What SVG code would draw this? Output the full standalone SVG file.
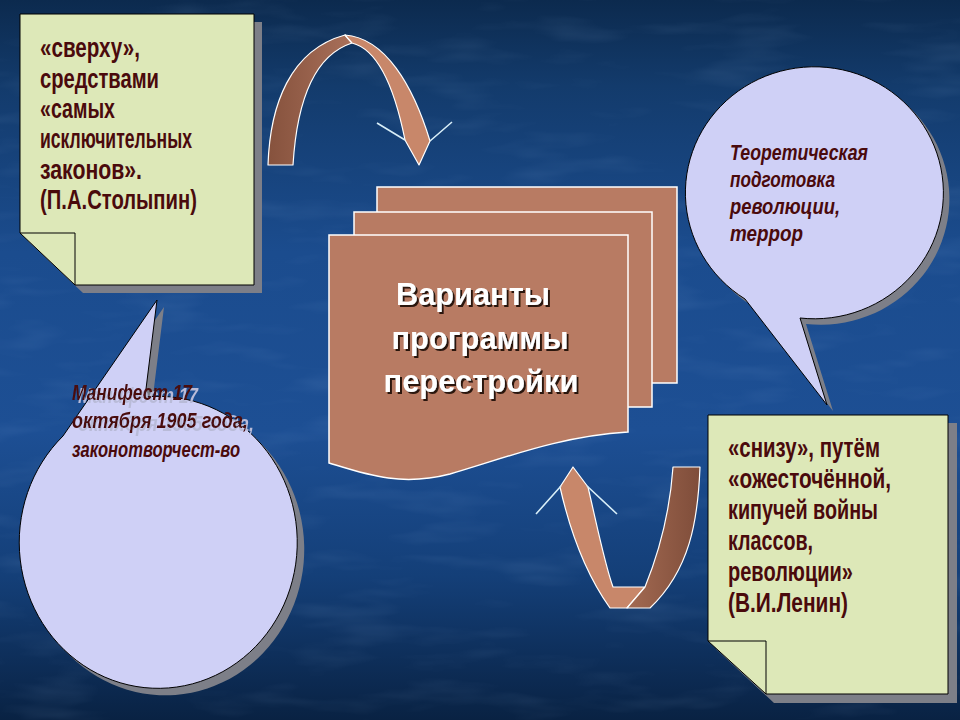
<svg xmlns="http://www.w3.org/2000/svg" width="960" height="720" viewBox="0 0 960 720">
<defs>
<linearGradient id="bg" x1="0" y1="0" x2="0" y2="1">
<stop offset="0" stop-color="#0c2a4e"/>
<stop offset="0.12" stop-color="#133b6c"/>
<stop offset="0.35" stop-color="#1b4c8e"/>
<stop offset="0.6" stop-color="#1d4f94"/>
<stop offset="0.8" stop-color="#143f78"/>
<stop offset="1" stop-color="#092243"/>
</linearGradient>
<filter id="tex" x="0" y="0" width="100%" height="100%">
<feTurbulence type="fractalNoise" baseFrequency="0.01 0.045" numOctaves="3" seed="4" result="n"/>
<feColorMatrix type="matrix" values="0 0 0 0 0.5  0 0 0 0 0.7  0 0 0 0 1  0 0 0 1.2 -0.6" in="n"/>
</filter>
<filter id="ds" x="-10%" y="-20%" width="130%" height="150%">
<feDropShadow dx="2" dy="2" stdDeviation="0.3" flood-color="#2a1610" flood-opacity="1"/>
</filter>
<filter id="ghost" x="-10%" y="-20%" width="130%" height="160%">
<feDropShadow dx="6" dy="3" stdDeviation="0.3" flood-color="#b9bbd8" flood-opacity="1"/>
</filter>
<linearGradient id="armDark" x1="0" y1="0" x2="1" y2="0">
<stop offset="0" stop-color="#86523d"/>
<stop offset="1" stop-color="#a9705a"/>
</linearGradient>
<linearGradient id="armDark2" x1="0" y1="0" x2="1" y2="0">
<stop offset="0" stop-color="#a36a52"/>
<stop offset="1" stop-color="#7f4d3a"/>
</linearGradient>
<style>
.bg{fill:url(#bg)}
.note{fill:#dde8b8;stroke:#000;stroke-width:1}
.fold{fill:none;stroke:#000;stroke-width:1}
.shadow{fill:#7d7f88}
.bubble{fill:#cfd0f6;stroke:#000;stroke-width:1}
.doc{fill:#b87b63;stroke:#fff;stroke-width:1.5}
.arm{stroke:#fff;stroke-width:1.2;stroke-linejoin:round}
.light{fill:#c8876a}
.wing{stroke:#d8eef8;stroke-width:1.6;fill:none}
.t{font-family:"Liberation Sans",Arial,sans-serif;font-weight:bold;fill:#4a0a0c;font-size:27px}
.ti{font-family:"Liberation Sans",Arial,sans-serif;font-weight:bold;font-style:italic;fill:#4a0a0c;font-size:22px}
.ct{font-family:"Liberation Sans",Arial,sans-serif;font-weight:bold;fill:#fff;font-size:31px;text-anchor:middle}
</style>
</defs>
<rect class="bg" x="0" y="0" width="960" height="720"/>
<rect x="0" y="0" width="960" height="720" filter="url(#tex)" opacity="0.16"/>

<g id="connectors">
<g id="arrow-top">
<path class="arm" fill="url(#armDark)" d="M268,165 C270,105 290,50 345,35 L352,43 C315,55 297,100 293,165 Z"/>
<path class="arm light" d="M345,35 C385,38 413,85 430,141 L419,165 L405,140 C396,95 380,50 352,43 Z"/>
<path class="wing" d="M377,123 L405,140 M452,122 L430,141"/>
</g>
<g id="arrow-bottom">
<path class="arm light" d="M573,467 L588,487 C598,530 605,565 613,587 L645,587 L627,608 L610,608 C590,580 572,540 560,487 Z"/>
<path class="arm" fill="url(#armDark2)" d="M645,587 C660,550 670,510 673,467 L700,467 C698,520 690,570 650,608 L627,608 Z"/>
<path class="wing" d="M536,514 L561,486 M617,514 L587,486"/>
</g>
</g>

<g id="note-top-left">
<path class="shadow" d="M28,22 H262 V293 H83 L28,241 Z"/>
<path class="note" d="M20,14 H254 V285 H75 L20,233 Z"/>
<path class="fold" d="M20,233 H75 V285"/>
<text class="t" x="40" y="57" textLength="100" lengthAdjust="spacingAndGlyphs">«сверху»,</text>
<text class="t" x="40" y="88" textLength="119" lengthAdjust="spacingAndGlyphs">средствами</text>
<text class="t" x="40" y="118" textLength="75" lengthAdjust="spacingAndGlyphs">«самых</text>
<text class="t" x="40" y="148" textLength="152" lengthAdjust="spacingAndGlyphs">исключительных</text>
<text class="t" x="40" y="179" textLength="102" lengthAdjust="spacingAndGlyphs">законов».</text>
<text class="t" x="40" y="209" textLength="157" lengthAdjust="spacingAndGlyphs">(П.А.Столыпин)</text>
</g>

<g id="bubble-top-right">
<path class="shadow" d="M806,324 A129,126 0 1 0 751,305 L833,411 Z"/>
<path class="bubble" d="M800,318 A129,126 0 1 0 745,299 L827,405 Z"/>
<text class="ti" x="730" y="160" textLength="138" lengthAdjust="spacingAndGlyphs">Теоретическая</text>
<text class="ti" x="730" y="187" textLength="105" lengthAdjust="spacingAndGlyphs">подготовка</text>
<text class="ti" x="730" y="214" textLength="110" lengthAdjust="spacingAndGlyphs">революции,</text>
<text class="ti" x="730" y="241" textLength="73" lengthAdjust="spacingAndGlyphs">террор</text>
</g>

<g id="document-center">
<rect class="doc" x="377" y="187" width="300" height="196"/>
<rect class="doc" x="354" y="212" width="298" height="195"/>
<path class="doc" d="M329,235 H628 V432 C560,436 505,458 450,474 C400,487 365,474 329,463 Z"/>
<g filter="url(#ds)">
<text class="ct" x="473" y="305" textLength="154" lengthAdjust="spacingAndGlyphs">Варианты</text>
<text class="ct" x="480" y="349" textLength="177" lengthAdjust="spacingAndGlyphs">программы</text>
<text class="ct" x="481" y="392" textLength="195" lengthAdjust="spacingAndGlyphs">перестройки</text>
</g>
</g>

<g id="bubble-bottom-left">
<path class="shadow" d="M152,404 A139,146 0 1 1 70,443 L164,307 Z"/>
<path class="bubble" d="M145,397 A139,146 0 1 1 63,436 L157,300 Z"/>
<g filter="url(#ghost)">
<text class="ti" x="72" y="400" textLength="120" lengthAdjust="spacingAndGlyphs">Манифест 17</text>
<text class="ti" x="72" y="428" textLength="176" lengthAdjust="spacingAndGlyphs">октября 1905 года,</text>
</g>
<text class="ti" x="72" y="457" textLength="168" lengthAdjust="spacingAndGlyphs">законотворчест-во</text>
</g>

<g id="note-bottom-right">
<path class="shadow" d="M716,423 H957 V703 H774 L716,649 Z"/>
<path class="note" d="M708,415 H948 V694 H766 L708,641 Z"/>
<path class="fold" d="M708,641 H766 V694"/>
<text class="t" x="728" y="457" textLength="152" lengthAdjust="spacingAndGlyphs">«снизу», путём</text>
<text class="t" x="728" y="488" textLength="163" lengthAdjust="spacingAndGlyphs">«ожесточённой,</text>
<text class="t" x="728" y="519" textLength="150" lengthAdjust="spacingAndGlyphs">кипучей войны</text>
<text class="t" x="728" y="550" textLength="85" lengthAdjust="spacingAndGlyphs">классов,</text>
<text class="t" x="728" y="581" textLength="125" lengthAdjust="spacingAndGlyphs">революции»</text>
<text class="t" x="728" y="612" textLength="120" lengthAdjust="spacingAndGlyphs">(В.И.Ленин)</text>
</g>
</svg>
